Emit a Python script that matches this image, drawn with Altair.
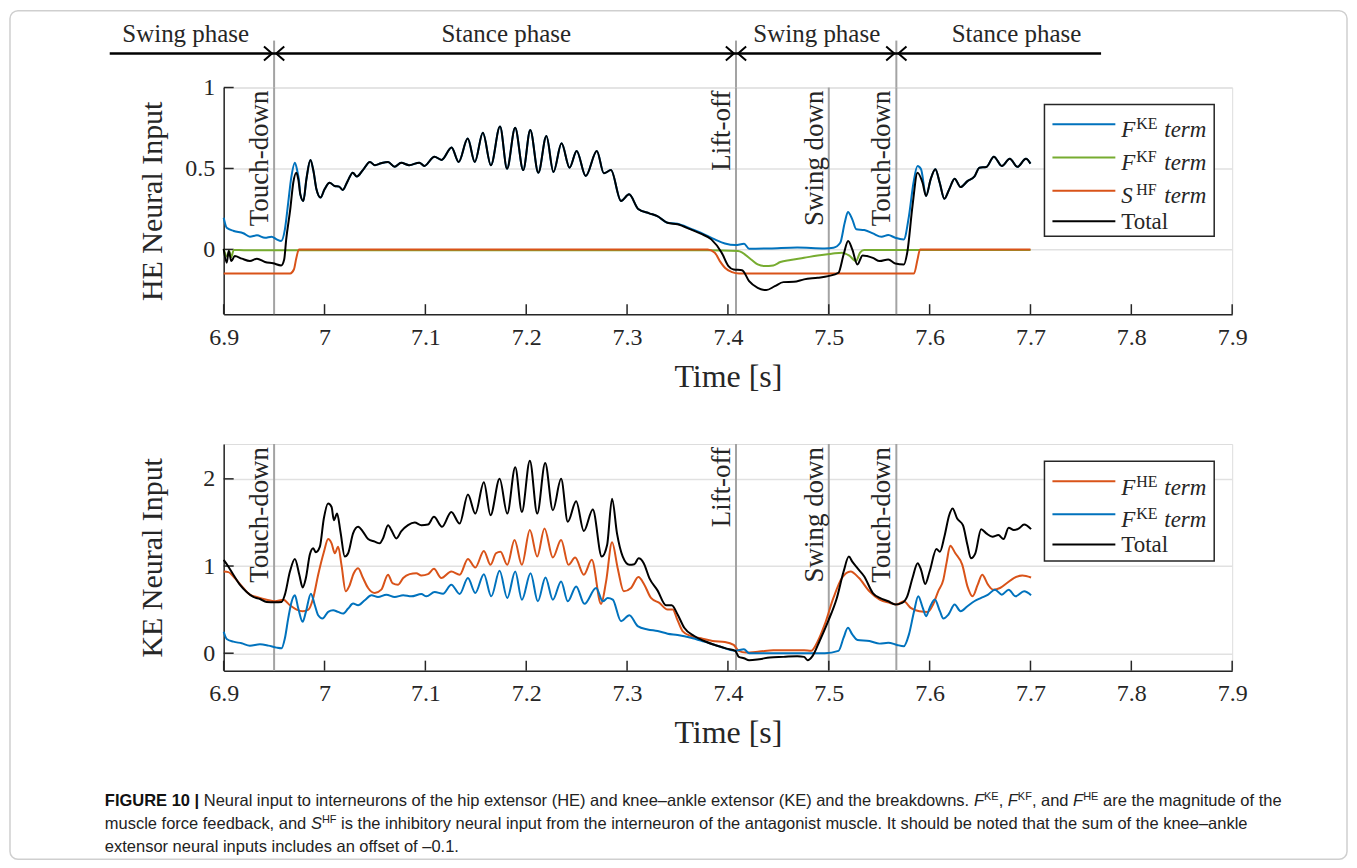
import altair as alt
import pandas as pd

# ------------------------------------------------------------------ data
X_TICKS = [6.9, 7.0, 7.1, 7.2, 7.3, 7.4, 7.5, 7.6, 7.7, 7.8, 7.9]
HE_Y_TICKS = [0, 0.5, 1]
KE_Y_TICKS = [0, 1, 2]

EVENT_T = [6.95, 7.408, 7.5, 7.567]
EVENT_LABELS = ["Touch-down", "Lift-off", "Swing down", "Touch-down"]
PHASE_DIVIDERS = [6.95, 7.408, 7.567]
PHASE_LABELS = ["Swing phase", "Stance phase", "Swing phase", "Stance phase"]
PHASE_START, PHASE_END = 6.787, 7.770

# HE panel -- Total
HE_TOTAL_T = [6.900, 6.903, 6.905, 6.9076, 6.911, 6.918, 6.926, 6.933, 6.941, 6.949, 6.957, 6.960,
              6.962, 6.966, 6.969, 6.972, 6.974, 6.976, 6.979, 6.982, 6.986, 6.989, 6.992, 6.996,
              7.000, 7.005, 7.010, 7.0145, 7.018, 7.023, 7.028, 7.032, 7.038, 7.045, 7.050, 7.056,
              7.063, 7.0695, 7.076, 7.084, 7.094, 7.099, 7.109, 7.116, 7.126, 7.133, 7.142, 7.149,
              7.157, 7.165, 7.174, 7.181, 7.189, 7.197, 7.204, 7.212, 7.220, 7.227, 7.235, 7.243,
              7.250, 7.259, 7.270, 7.277, 7.284, 7.294, 7.302, 7.311, 7.322, 7.330, 7.340, 7.350,
              7.363, 7.373, 7.3835, 7.3938, 7.4005, 7.4057, 7.414, 7.421, 7.4295, 7.438, 7.4465,
              7.455, 7.4654, 7.4755, 7.489, 7.4994, 7.5096, 7.5147, 7.5192, 7.5233, 7.5284, 7.5335,
              7.5437, 7.5505, 7.559, 7.5659, 7.5744, 7.5778, 7.583, 7.588, 7.593, 7.5965, 7.601,
              7.6057, 7.610, 7.6146, 7.6194, 7.6248, 7.6307, 7.6375, 7.6443, 7.6494, 7.6562, 7.6637,
              7.6716, 7.6795, 7.687, 7.6955, 7.700]
HE_TOTAL = [0.003, -0.082, -0.010, -0.072, -0.041, -0.057, -0.072, -0.057, -0.078, -0.086, -0.099, -0.062,
            0.062, 0.247, 0.412, 0.474, 0.433, 0.340, 0.299, 0.433, 0.553, 0.485, 0.371, 0.320,
            0.371, 0.412, 0.392, 0.388, 0.367, 0.423, 0.474, 0.450, 0.490, 0.540, 0.520, 0.532,
            0.540, 0.511, 0.535, 0.520, 0.536, 0.516, 0.573, 0.553, 0.630, 0.540, 0.685, 0.540,
            0.720, 0.520, 0.760, 0.499, 0.752, 0.490, 0.738, 0.474, 0.700, 0.478, 0.656, 0.505,
            0.608, 0.454, 0.608, 0.470, 0.490, 0.299, 0.340, 0.250, 0.223, 0.206, 0.165, 0.155,
            0.124, 0.097, 0.062, -0.020, -0.103, -0.124, -0.128, -0.196, -0.237, -0.251, -0.227,
            -0.202, -0.200, -0.185, -0.175, -0.165, -0.144, -0.031, 0.052, 0.000, -0.093, -0.037,
            -0.052, -0.072, -0.062, -0.087, -0.093, -0.020, 0.268, 0.474, 0.412, 0.330, 0.433,
            0.495, 0.412, 0.313, 0.371, 0.437, 0.385, 0.422, 0.449, 0.505, 0.509, 0.573,
            0.515, 0.560, 0.510, 0.560, 0.530]

# HE panel -- F^KE term
HE_FKE_T = [6.900, 6.903, 6.910, 6.9195, 6.926, 6.933, 6.941, 6.9475, 6.9525, 6.957, 6.9607, 6.964,
            6.967, 6.9706, 6.973, 6.975, 6.976, 6.979, 6.982, 6.986, 6.989, 6.992, 6.996,
            7.000, 7.005, 7.010, 7.0145, 7.018, 7.023, 7.028, 7.032, 7.038, 7.045, 7.050, 7.056,
            7.063, 7.0695, 7.076, 7.084, 7.094, 7.099, 7.109, 7.116, 7.126, 7.133, 7.142, 7.149,
            7.157, 7.165, 7.174, 7.181, 7.189, 7.197, 7.204, 7.212, 7.220, 7.227, 7.235, 7.243,
            7.250, 7.259, 7.270, 7.277, 7.284, 7.294, 7.302, 7.311, 7.322, 7.330, 7.340, 7.350,
            7.363, 7.373, 7.387, 7.397, 7.4074, 7.416, 7.421, 7.4415, 7.4687, 7.496, 7.5046,
            7.5114, 7.5158, 7.519, 7.5233, 7.5273, 7.5352, 7.5437, 7.5523, 7.559, 7.5659, 7.5744,
            7.5795, 7.584, 7.588, 7.5915, 7.5965, 7.601,
            7.6057, 7.610, 7.6146, 7.6194, 7.6248, 7.6307, 7.6375, 7.6443, 7.6494, 7.6562, 7.6637,
            7.6716, 7.6795, 7.687, 7.6955, 7.700]
HE_FKE = [0.196, 0.134, 0.114, 0.100, 0.079, 0.087, 0.072, 0.079, 0.062, 0.052, 0.124, 0.289,
          0.443, 0.536, 0.485, 0.410, 0.340, 0.299, 0.433, 0.553, 0.485, 0.371, 0.320,
          0.371, 0.412, 0.392, 0.388, 0.367, 0.423, 0.474, 0.450, 0.490, 0.540, 0.520, 0.532,
          0.540, 0.511, 0.535, 0.520, 0.536, 0.516, 0.573, 0.553, 0.630, 0.540, 0.685, 0.540,
          0.720, 0.520, 0.760, 0.499, 0.752, 0.490, 0.738, 0.474, 0.700, 0.478, 0.656, 0.505,
          0.608, 0.454, 0.608, 0.470, 0.490, 0.299, 0.340, 0.250, 0.223, 0.206, 0.165, 0.158,
          0.128, 0.104, 0.062, 0.037, 0.027, 0.035, 0.004, 0.006, 0.012, 0.006, 0.010,
          0.041, 0.165, 0.231, 0.186, 0.124, 0.120, 0.099, 0.078, 0.089, 0.072, 0.062,
          0.206, 0.412, 0.515, 0.495, 0.330, 0.433,
          0.495, 0.412, 0.313, 0.371, 0.437, 0.385, 0.422, 0.449, 0.505, 0.509, 0.573,
          0.515, 0.560, 0.510, 0.560, 0.530]

# HE panel -- F^KF term
HE_FKF_T = [6.900, 6.9036, 6.9055, 6.9075, 6.910, 6.920, 7.380, 7.410, 7.423, 7.4295, 7.436, 7.445,
            7.452, 7.462, 7.4755, 7.489, 7.5028, 7.513, 7.520, 7.527, 7.531, 7.535, 7.700]
HE_FKF = [0.000, -0.045, -0.010, -0.048, -0.003, -0.005, -0.005, -0.010, -0.062, -0.093, -0.103, -0.099,
          -0.078, -0.066, -0.052, -0.037, -0.027, -0.020, -0.037, -0.072, -0.020, -0.004, -0.003]

# HE panel -- S^HF term
HE_SHF_T = [6.900, 6.966, 6.9696, 6.972, 6.9746, 7.380, 7.387, 7.392, 7.397, 7.404, 7.411, 7.5846,
            7.588, 7.5905, 7.700]
HE_SHF = [-0.148, -0.148, -0.124, -0.054, 0.000, 0.000, -0.020, -0.072, -0.113, -0.140, -0.148, -0.148,
          -0.062, 0.000, 0.000]

# KE panel -- Total
KE_TOTAL_T = [6.900, 6.9046, 6.9096, 6.916, 6.9228, 6.9294, 6.936, 6.9426, 6.951, 6.9574, 6.9607, 6.9657,
              6.9706, 6.975, 6.9783, 6.9815, 6.9855, 6.9888, 6.9914, 6.9954, 6.9993, 7.0036, 7.007,
              7.0092, 7.0125, 7.0158, 7.0201, 7.0234, 7.0283, 7.0333, 7.0382, 7.0432, 7.0498, 7.0547,
              7.058, 7.063, 7.0663, 7.0712, 7.0762, 7.0828, 7.0894, 7.096, 7.1026, 7.1085, 7.1165,
              7.1257, 7.134, 7.1422, 7.1495, 7.158, 7.1646, 7.1736, 7.1812, 7.1891, 7.1957, 7.2036,
              7.2109, 7.2188, 7.2264, 7.2346, 7.2412, 7.2495, 7.2571, 7.266, 7.2749, 7.2802, 7.2851,
              7.290, 7.2957, 7.3023, 7.3072, 7.3115, 7.3165, 7.3221, 7.3303, 7.3386, 7.3442, 7.3501,
              7.3567, 7.3666, 7.3765, 7.387, 7.3988, 7.4073, 7.4108, 7.4159, 7.421, 7.4312, 7.4415,
              7.455, 7.4687, 7.4755, 7.479, 7.484, 7.4909, 7.4994, 7.508, 7.5147, 7.5199, 7.5233,
              7.5284, 7.5352, 7.5437, 7.5505, 7.559, 7.566, 7.5727, 7.5778, 7.583, 7.5881, 7.5915,
              7.5956, 7.600, 7.6068, 7.6102, 7.6146, 7.6194, 7.6228, 7.6273, 7.633, 7.6375, 7.6409,
              7.6453, 7.6511, 7.6562, 7.6624, 7.6682, 7.6733, 7.6784, 7.6835, 7.6886, 7.6937, 7.7006]
KE_TOTAL = [1.070, 0.994, 0.900, 0.786, 0.702, 0.645, 0.622, 0.588, 0.584, 0.588, 0.672, 0.937,
            1.082, 0.900, 0.755, 0.862, 1.135, 1.203, 1.158, 1.222, 1.545, 1.716, 1.678,
            1.526, 1.602, 1.393, 1.108, 1.146, 1.374, 1.450, 1.393, 1.310, 1.280, 1.260,
            1.317, 1.469, 1.412, 1.317, 1.400, 1.469, 1.499, 1.469, 1.476, 1.564, 1.450,
            1.621, 1.488, 1.820, 1.602, 1.962, 1.583, 2.000, 1.602, 2.133, 1.621, 2.209,
            1.602, 2.182, 1.640, 2.000, 1.507, 1.743, 1.401, 1.648, 1.108, 1.241, 1.773,
            1.374, 1.108, 1.014, 1.020, 1.089, 1.033, 0.862, 0.718, 0.550, 0.550, 0.444,
            0.292, 0.197, 0.140, 0.094, 0.053, 0.027, -0.042, -0.057, -0.080, -0.068, -0.049,
            -0.042, -0.034, -0.042, -0.080, -0.030, 0.140, 0.368, 0.634, 0.937, 1.108, 1.050,
            0.975, 0.880, 0.690, 0.634, 0.596, 0.558, 0.577, 0.653, 0.862, 1.033, 0.957,
            0.794, 0.937, 1.195, 1.165, 1.336, 1.583, 1.659, 1.545, 1.469, 1.241, 1.089,
            1.146, 1.423, 1.374, 1.336, 1.355, 1.310, 1.439, 1.412, 1.431, 1.477, 1.423]

# KE panel -- F^HE term
KE_FHE_T = [6.900, 6.9046, 6.911, 6.9195, 6.926, 6.9327, 6.9426, 6.951, 6.9592, 6.9657, 6.9723, 6.9783,
            6.984, 6.9888, 6.9937, 6.9993, 7.0036, 7.007, 7.0102, 7.0135, 7.0168, 7.021, 7.0244,
            7.029, 7.0333, 7.0382, 7.0432, 7.0498, 7.0563, 7.063, 7.0673, 7.073, 7.078, 7.0844,
            7.091, 7.096, 7.1026, 7.1085, 7.1158, 7.1257, 7.134, 7.1422, 7.1495, 7.158, 7.1646,
            7.170, 7.1745, 7.1812, 7.1884, 7.1957, 7.2036, 7.2109, 7.2181, 7.2264, 7.2346, 7.2419,
            7.2485, 7.2571, 7.265, 7.2742, 7.2792, 7.2851, 7.2907, 7.2967, 7.3039, 7.3112, 7.3171,
            7.3237, 7.332, 7.3402, 7.3452, 7.3501, 7.355, 7.3633, 7.3732, 7.3848, 7.397, 7.4057,
            7.4108, 7.4176, 7.4312, 7.445, 7.462, 7.4755, 7.4824, 7.4892, 7.496, 7.5046, 7.513,
            7.5216, 7.530, 7.5403, 7.5505, 7.5607, 7.5676, 7.5744, 7.5812, 7.5898, 7.5983, 7.6034,
            7.6085, 7.6136, 7.617, 7.6204, 7.6255, 7.6324, 7.6375, 7.6426, 7.6477, 7.6521, 7.6579,
            7.663, 7.6698, 7.6767, 7.6835, 7.692, 7.7006]
KE_FHE = [0.937, 0.930, 0.862, 0.748, 0.672, 0.645, 0.614, 0.595, 0.614, 0.550, 0.501, 0.482,
          0.501, 0.634, 0.900, 1.158, 1.310, 1.260, 1.146, 1.222, 1.014, 0.710, 0.767,
          0.918, 0.975, 0.862, 0.748, 0.691, 0.729, 0.900, 0.805, 0.786, 0.862, 0.907,
          0.918, 0.892, 0.907, 0.968, 0.862, 0.937, 0.900, 1.082, 0.983, 1.173, 1.014,
          1.146, 1.165, 1.014, 1.298, 1.014, 1.412, 1.108, 1.431, 1.097, 1.298, 1.014,
          1.097, 0.900, 1.071, 0.566, 0.824, 1.272, 0.975, 0.710, 0.748, 0.873, 0.786,
          0.634, 0.577, 0.501, 0.501, 0.376, 0.254, 0.197, 0.171, 0.140, 0.129, 0.095,
          0.027, 0.008, 0.019, 0.034, 0.034, 0.034, 0.027, 0.140, 0.330, 0.634, 0.862,
          0.937, 0.862, 0.710, 0.615, 0.577, 0.558, 0.596, 0.520, 0.482, 0.474, 0.558,
          0.710, 0.843, 1.051, 1.233, 1.146, 1.013, 0.767, 0.653, 0.786, 0.900, 0.786,
          0.729, 0.748, 0.805, 0.862, 0.892, 0.869]

# KE panel -- F^KE term
KE_FKE_T = [6.900, 6.903, 6.9096, 6.9178, 6.926, 6.936, 6.9443, 6.9525, 6.9574, 6.9607, 6.964, 6.9673,
            6.9706, 6.974, 6.9783, 6.9815, 6.9865, 6.9904, 6.9937, 6.998, 7.0036, 7.0085, 7.0135,
            7.0184, 7.0234, 7.0283, 7.0333, 7.0399, 7.0465, 7.053, 7.0613, 7.0696, 7.078, 7.086,
            7.096, 7.101, 7.1092, 7.1175, 7.1257, 7.134, 7.1422, 7.1495, 7.158, 7.1653, 7.1736,
            7.1812, 7.1891, 7.1957, 7.2043, 7.2115, 7.2191, 7.2264, 7.2346, 7.2412, 7.2495, 7.2577,
            7.2693, 7.2759, 7.2808, 7.2858, 7.294, 7.3023, 7.3105, 7.3204, 7.3303, 7.3402, 7.3501,
            7.3633, 7.3765, 7.3904, 7.4073, 7.4159, 7.421, 7.4415, 7.4755, 7.496, 7.5096, 7.5147,
            7.519, 7.5233, 7.5284, 7.5403, 7.5505, 7.559, 7.5676, 7.5744, 7.5795, 7.5846, 7.5887,
            7.5932, 7.5966, 7.600, 7.6051, 7.6102, 7.6136, 7.6187, 7.6248, 7.6307, 7.6375, 7.6443,
            7.6511, 7.658, 7.6648, 7.6716, 7.6784, 7.6852, 7.6937, 7.7006]
KE_FKE = [0.247, 0.164, 0.133, 0.114, 0.087, 0.102, 0.087, 0.064, 0.057, 0.171, 0.399, 0.588,
          0.664, 0.512, 0.360, 0.474, 0.683, 0.550, 0.436, 0.399, 0.474, 0.493, 0.474,
          0.455, 0.512, 0.569, 0.550, 0.607, 0.664, 0.645, 0.672, 0.645, 0.664, 0.652,
          0.679, 0.652, 0.702, 0.683, 0.786, 0.679, 0.862, 0.691, 0.907, 0.652, 0.945,
          0.633, 0.937, 0.614, 0.918, 0.595, 0.869, 0.614, 0.824, 0.595, 0.766, 0.566,
          0.748, 0.595, 0.633, 0.614, 0.368, 0.436, 0.311, 0.273, 0.254, 0.224, 0.209,
          0.178, 0.133, 0.083, 0.027, 0.045, 0.000, 0.000, 0.000, 0.000, 0.027, 0.178,
          0.292, 0.216, 0.152, 0.140, 0.110, 0.121, 0.095, 0.080, 0.216, 0.482, 0.653,
          0.520, 0.425, 0.520, 0.615, 0.482, 0.398, 0.444, 0.558, 0.482, 0.539, 0.596,
          0.634, 0.672, 0.729, 0.672, 0.729, 0.653, 0.710, 0.665]

# caption: (text, kind) runs; kind b=bold, n=normal, i=italic, s=superscript
CAPTION_LINES = [
    [("FIGURE 10 |", "b"), (" Neural input to interneurons of the hip extensor (HE) and knee\u2013ankle "
                             "extensor (KE) and the breakdowns. ", "n"),
     ("F", "i"), ("KE", "s"), (", ", "n"), ("F", "i"), ("KF", "s"), (", and ", "n"),
     ("F", "i"), ("HE", "s"), (" are the magnitude of the", "n")],
    [("muscle force feedback, and ", "n"), ("S", "i"), ("HF", "s"),
     (" is the inhibitory neural input from the interneuron of the antagonist muscle. "
      "It should be noted that the sum of the knee\u2013ankle", "n")],
    [("extensor neural inputs includes an offset of \u20130.1.", "n")],
]

# ------------------------------------------------------------------ style
SERIF = "Liberation Serif"
SANS = "Liberation Sans"
INK = "#262626"
GRID = "#e1e1e1"
EVT = "#a3a3a3"
BLUE, ORANGE, GREEN, BLACK = "#0072BD", "#D95319", "#77AC30", "#000000"
W, H = 1010, 227
DUMMY = pd.DataFrame({"k": [0]})

XS = alt.Scale(domain=[6.9, 7.9], nice=False, zero=False)
YS_HE = alt.Scale(domain=[-0.4, 1.0], nice=False, zero=False)
YS_KE = alt.Scale(domain=[-0.2, 2.4], nice=False, zero=False)


def x_axis():
    return alt.Axis(values=X_TICKS, format=".1~f", ticks=False, tickSize=0, grid=False,
                    domainColor=INK, domainWidth=1.5, labelFont=SERIF, labelFontSize=24,
                    labelColor=INK, labelPadding=11, labelFlush=False, labelOverlap=False,
                    title="Time [s]", titleFont=SERIF, titleFontSize=32, titleFontWeight="normal",
                    titleColor=INK, titleX=W / 2, titleY=72, titleAlign="center",
                    titleBaseline="alphabetic")


def y_axis(values, title):
    return alt.Axis(values=values, format=".1~f", ticks=False, tickSize=0, grid=True,
                    gridColor=GRID, gridWidth=1.5, domainColor=INK, domainWidth=1.5,
                    labelFont=SERIF, labelFontSize=24, labelColor=INK, labelPadding=9,
                    labelFlush=False, title=title, titleFont=SERIF, titleFontSize=30,
                    titleFontWeight="normal", titleColor=INK, titleAngle=270, titleX=-62,
                    titleY=H / 2, titleAlign="center", titleBaseline="alphabetic")


def txt(x, y, s, size, style="normal", weight="normal", align="left", font=SERIF, color=INK):
    return alt.Chart(DUMMY).mark_text(text=s, font=font, fontSize=size, fontStyle=style,
                                      fontWeight=weight, align=align, baseline="alphabetic",
                                      color=color).encode(x=alt.value(x), y=alt.value(y))


def series(t, v, color, ys, xa, ya):
    df = pd.DataFrame({"t": t, "v": v})
    return alt.Chart(df).mark_line(color=color, strokeWidth=2, interpolate="monotone").encode(
        x=alt.X("t:Q", scale=XS, axis=xa), y=alt.Y("v:Q", scale=ys, axis=ya))


def panel_base(ys, yticks, ytitle):
    xa, ya = x_axis(), y_axis(yticks, ytitle)
    ev = pd.DataFrame({"t": EVENT_T, "label": EVENT_LABELS})
    rules = alt.Chart(ev).mark_rule(color=EVT, strokeWidth=2).encode(
        x=alt.X("t:Q", scale=XS, axis=xa), y=alt.value(0), y2=alt.value(H))
    labels = alt.Chart(ev).mark_text(font=SERIF, fontSize=27, color=INK, angle=270, align="right",
                                     baseline="alphabetic", dy=-6).encode(
        x=alt.X("t:Q", scale=XS, axis=xa), y=alt.value(3), text="label:N")
    xt = alt.Chart(pd.DataFrame({"t": X_TICKS})).mark_rule(color=INK, strokeWidth=1.5).encode(
        x=alt.X("t:Q", scale=XS, axis=xa), y=alt.value(H), y2=alt.value(H - 10))
    yt = alt.Chart(pd.DataFrame({"v": yticks})).mark_rule(color=INK, strokeWidth=1.5).encode(
        y=alt.Y("v:Q", scale=ys, axis=ya), x=alt.value(0), x2=alt.value(10))
    return [rules, labels, xt, yt], xa, ya


def legend(box, rows):
    x0, y0, x1, y1 = box
    layers = [alt.Chart(DUMMY).mark_rect(fill="white", stroke=INK, strokeWidth=1.5).encode(
        x=alt.value(x0), x2=alt.value(x1), y=alt.value(y0), y2=alt.value(y1))]
    for color, ly, by, main, sup in rows:
        layers.append(alt.Chart(DUMMY).mark_rule(color=color, strokeWidth=2).encode(
            x=alt.value(x0 + 8), x2=alt.value(x0 + 71), y=alt.value(ly)))
        if sup:
            layers.append(txt(x0 + 77, by, main, 23, style="italic"))
            layers.append(txt(x0 + 92, by - 8, sup, 16))
            layers.append(txt(x0 + 120, by, "term", 23, style="italic"))
        else:
            layers.append(txt(x0 + 77, by, main, 23))
    return layers


# Arial / Liberation Sans advance widths (1/1000 em) for laying out caption runs
_AW = {" ": 278, "(": 333, ")": 333, ",": 278, "-": 333, ".": 278, "|": 260, "\u2013": 556,
       "A": 667, "B": 667, "C": 722, "D": 722, "E": 667, "F": 611, "G": 778, "H": 722, "I": 278,
       "K": 667, "L": 556, "M": 833, "N": 722, "O": 778, "R": 722, "S": 667, "T": 611, "U": 722,
       "a": 556, "b": 556, "c": 500, "d": 556, "e": 556, "f": 278, "g": 556, "h": 556, "i": 222,
       "j": 222, "k": 500, "l": 222, "m": 833, "n": 556, "o": 556, "p": 556, "q": 556, "r": 333,
       "s": 500, "t": 278, "u": 556, "v": 500, "w": 722, "x": 500, "y": 500, "z": 500}
_BW = {"|": 280}


def text_width(s, size, bold=False):
    tot = 0
    for ch in s:
        if bold and ch in _BW:
            tot += _BW[ch]
        else:
            tot += _AW.get(ch, 556)
    return tot * size / 1000.0


def caption_layers(x0, y0, size, lead, color):
    layers = []
    sup_size = round(size * 0.65)
    for li, runs in enumerate(CAPTION_LINES):
        x = x0
        y = y0 + li * lead
        for s, kind in runs:
            sz = sup_size if kind == "s" else size
            lstrip = len(s) - len(s.lstrip(" "))
            x += text_width(" " * lstrip, sz)
            core = s.strip(" ")
            if core:
                layers.append(txt(x, y - (size * 0.38 if kind == "s" else 0), core, sz,
                                  style="italic" if kind == "i" else "normal",
                                  weight="bold" if kind == "b" else "normal",
                                  font=SANS, color=color if kind != "b" else "#111111"))
            x += text_width(core, sz, bold=(kind == "b"))
            rstrip = len(s) - len(s.rstrip(" "))
            x += text_width(" " * rstrip, sz)
    return layers


# ------------------------------------------------------------------ top panel (HE)
base, xa, ya = panel_base(YS_HE, HE_Y_TICKS, "HE Neural Input")
top_layers = list(base)
div = pd.DataFrame({"t": PHASE_DIVIDERS})
top_layers.append(alt.Chart(div).mark_rule(color=EVT, strokeWidth=2).encode(
    x=alt.X("t:Q", scale=XS, axis=xa), y=alt.value(-47), y2=alt.value(0)))
top_layers.append(alt.Chart(pd.DataFrame({"a": [PHASE_START], "b": [PHASE_END]})).mark_rule(
    color="black", strokeWidth=2.5).encode(x=alt.X("a:Q", scale=XS, axis=xa), x2="b:Q",
                                           y=alt.value(-34)))
top_layers.append(alt.Chart(div).mark_point(shape="M-1.45,-1L-0.3,0L-1.45,1", filled=False, size=196,
                                            color="black", strokeWidth=2, opacity=1).encode(
    x=alt.X("t:Q", scale=XS, axis=xa), y=alt.value(-34)))
top_layers.append(alt.Chart(div).mark_point(shape="M1.45,-1L0.3,0L1.45,1", filled=False, size=196,
                                            color="black", strokeWidth=2, opacity=1).encode(
    x=alt.X("t:Q", scale=XS, axis=xa), y=alt.value(-34)))
for px, lab in zip([-38, 283, 594, 794], PHASE_LABELS):
    top_layers.append(txt(px, -46, lab, 25, align="center"))

top_layers += [series(HE_FKE_T, HE_FKE, BLUE, YS_HE, xa, ya),
               series(HE_FKF_T, HE_FKF, GREEN, YS_HE, xa, ya),
               series(HE_SHF_T, HE_SHF, ORANGE, YS_HE, xa, ya),
               series(HE_TOTAL_T, HE_TOTAL, BLACK, YS_HE, xa, ya)]
top_layers += legend((822, 17, 992, 149),
                     [(BLUE, 36.7, 49.3, "F", "KE"), (GREEN, 70, 82.7, "F", "KF"),
                      (ORANGE, 103.3, 116, "S", "HF"), (BLACK, 134, 141.7, "Total", None)])
top_layers.append(alt.Chart(DUMMY).mark_rect(fillOpacity=0, stroke="#cfcfcf", strokeWidth=1.5,
                                             cornerRadius=8).encode(
    x=alt.value(-214), x2=alt.value(1125), y=alt.value(-77), y2=alt.value(773)))

top = alt.layer(*top_layers).properties(width=W, height=H)

# ------------------------------------------------------------------ bottom panel (KE)
base, xa, ya = panel_base(YS_KE, KE_Y_TICKS, "KE Neural Input")
bot_layers = list(base)
bot_layers += [series(KE_FHE_T, KE_FHE, ORANGE, YS_KE, xa, ya),
               series(KE_FKE_T, KE_FKE, BLUE, YS_KE, xa, ya),
               series(KE_TOTAL_T, KE_TOTAL, BLACK, YS_KE, xa, ya)]
bot_layers += legend((822, 17.3, 992, 117.3),
                     [(ORANGE, 37.3, 50.7, "F", "HE"), (BLUE, 70.3, 83, "F", "KE"),
                      (BLACK, 100.7, 108, "Total", None)])
bot_layers += caption_layers(-119, 363, 16.5, 23, "#222222")

bottom = alt.layer(*bot_layers).properties(width=W, height=H)

chart = alt.vconcat(top, bottom, spacing=130, bounds="flush").properties(padding=0).configure_view(
    strokeWidth=0).configure(background="white")

chart.save("out.html", embed_options={"renderer": "svg", "actions": False})
